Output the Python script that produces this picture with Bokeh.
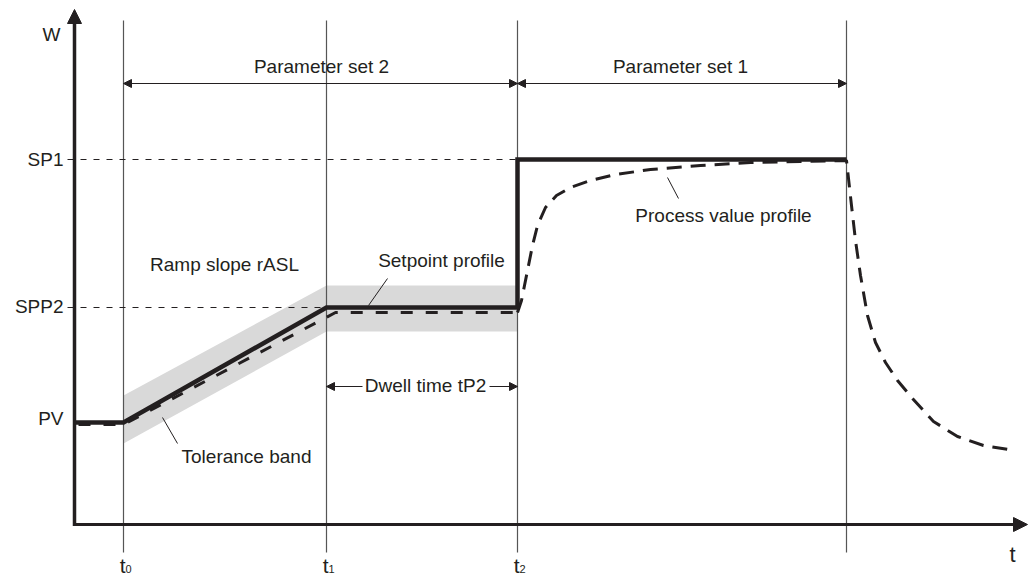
from bokeh.plotting import figure
from bokeh.models import Range1d, Arrow, NormalHead
from bokeh.embed import file_html
from bokeh.resources import INLINE
from bokeh.core.properties import value

# ---------------- data (diagram units: x = time position, y = screen-down level) -------------
t_marks = [123, 326, 517, 846]          # t0, t1, t2, end of parameter set 1
t_labels = ["t", "t", "t"]
t_subs = ["0", "1", "2"]

level_names = ["SP1", "SPP2", "PV"]
level_w = [159, 307, 422]

origin_t = 74
base_w = 524

# setpoint profile (solid)
sp_t = [74, 123, 326, 517, 517, 846]
sp_w = [422, 422, 307, 307, 159, 159]

# tolerance band
band_t = [123, 326, 517, 517, 326, 123]
band_w = [395, 285, 285, 331, 331, 443]

# process value profile (dashed) - tracking part
pv1_t = [78, 123, 335, 517]
pv1_w = [424, 424, 312, 312]
# process value profile - response part
pv2_t = [517, 521, 524, 528, 532, 537, 545, 556, 570, 590, 615, 650, 700, 750, 800, 846,
         848, 851, 855, 860, 867, 875, 885, 897, 912, 933, 957, 983, 1008]
pv2_w = [312, 300, 285, 265, 245, 225, 207, 195, 187, 180, 174, 169, 165, 162, 161, 160,
         178, 205, 240, 275, 315, 342, 362, 380, 398, 421, 436, 445, 449]

INK = "#231f20"
FONT = value("Liberation Sans")

p = figure(width=1028, height=577, x_range=Range1d(0, 1028), y_range=Range1d(577, 0),
           output_backend="svg", toolbar_location=None, min_border=0,
           background_fill_color="white", border_fill_color="white")
p.axis.visible = False
p.grid.visible = False
p.outline_line_color = None

# tolerance band
p.patch(band_t, band_w, fill_color="#d9d9d9", line_color=None)

# vertical time lines
p.segment(x0=t_marks, y0=[20] * 4, x1=t_marks, y1=[552] * 4, line_color="#555555", line_width=1.2)

# dashed reference lines for SP1 and SPP2
p.line([67, t_marks[2]], [level_w[0]] * 2, line_color=INK, line_width=1, line_dash="6 7")
p.line([67, t_marks[1]], [level_w[1]] * 2, line_color=INK, line_width=1, line_dash="6 7")

# process value profile
p.line(pv1_t, pv1_w, line_color=INK, line_width=3, line_dash="12 13")
p.line(pv2_t, pv2_w, line_color=INK, line_width=3, line_dash="15 9")

# setpoint profile
p.line(sp_t, sp_w, line_color=INK, line_width=4.5, line_join="miter")

# axes with arrows
p.add_layout(Arrow(x_start=origin_t, y_start=base_w + 1.5, x_end=origin_t, y_end=9,
                   line_color=INK, line_width=3.5,
                   end=NormalHead(size=14, fill_color=INK, line_color=INK)))
p.add_layout(Arrow(x_start=origin_t - 1.5, y_start=base_w, x_end=1027, y_end=base_w,
                   line_color=INK, line_width=3,
                   end=NormalHead(size=14, fill_color=INK, line_color=INK)))

def dbl_arrow(x0, x1, y):
    p.add_layout(Arrow(x_start=x0, y_start=y, x_end=x1, y_end=y, line_color=INK, line_width=1,
                       start=NormalHead(size=8, fill_color=INK, line_color=INK),
                       end=NormalHead(size=8, fill_color=INK, line_color=INK)))

def one_arrow(x0, x1, y):
    p.add_layout(Arrow(x_start=x0, y_start=y, x_end=x1, y_end=y, line_color=INK, line_width=1,
                       end=NormalHead(size=8, fill_color=INK, line_color=INK)))

dbl_arrow(t_marks[0], t_marks[2], 83)
dbl_arrow(t_marks[2], t_marks[3], 83)
one_arrow(362, t_marks[1], 386)
one_arrow(489, t_marks[2], 386)

# leader lines
p.segment(x0=[387, 162, 667], y0=[278, 417, 177], x1=[368, 177, 678], y1=[305, 443, 198],
          line_color=INK, line_width=1)

def txt(x, y, s, size=19, align="center"):
    # compensate the renderer's baseline offset (about 0.37 em)
    p.text(x=[x], y=[y - 0.37 * size], text=[s], text_font=FONT, text_font_size=f"{size}px",
           text_color=INK, text_align=align, text_baseline="alphabetic")

# level labels
for name, w, b in zip(level_names, level_w, [7, 6, 3]):
    txt(63, w + b, name, align="right")

txt(51, 41, "W")
txt(1012, 562, "t", size=22)
for tm, lab, sub in zip(t_marks[:3], t_labels, t_subs):
    txt(tm + 2, 573, lab, size=21, align="right")
    txt(tm + 2, 573, sub, size=11, align="left")

txt(321, 73, "Parameter set 2")
txt(680, 73, "Parameter set 1")
txt(224, 271, "Ramp slope rASL")
txt(441, 267, "Setpoint profile")
txt(246, 463, "Tolerance band")
txt(723, 222, "Process value profile")
txt(425, 392, "Dwell time tP2")

open("out.html", "w").write(file_html(p, INLINE))
